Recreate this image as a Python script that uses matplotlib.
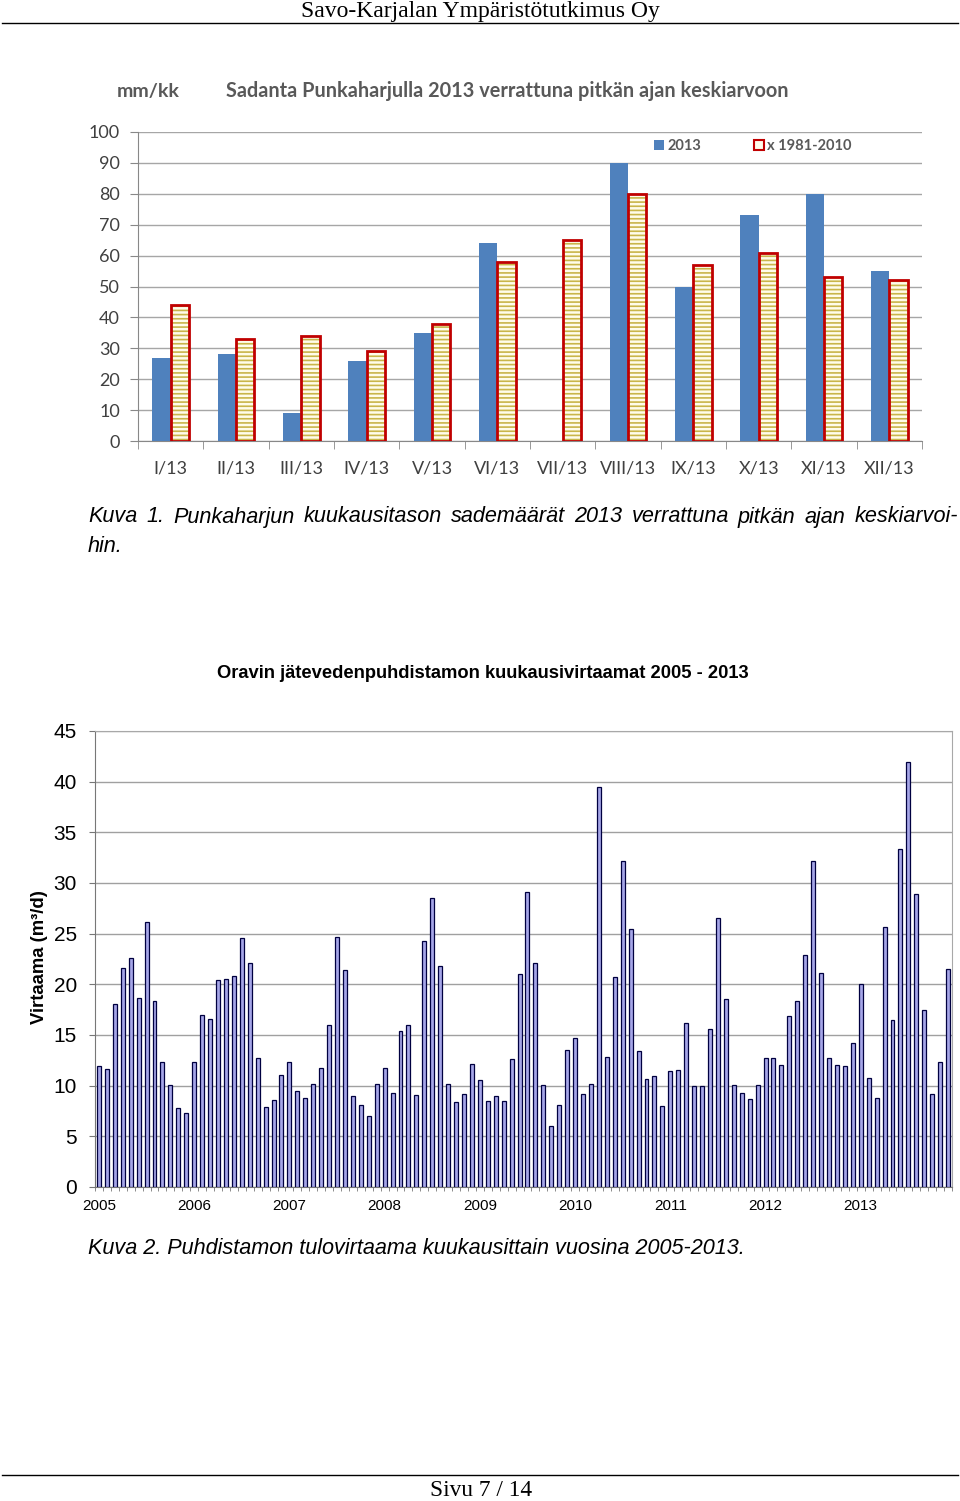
import numpy as np
import matplotlib.pyplot as plt
from matplotlib.lines import Line2D
from matplotlib.patches import Patch

W, H = 960, 1501

# Kuva 1: sadanta Punkaharjulla (mm/kk)
kuukaudet = ['I/13', 'II/13', 'III/13', 'IV/13', 'V/13', 'VI/13',
             'VII/13', 'VIII/13', 'IX/13', 'X/13', 'XI/13', 'XII/13']
sade_2013 = [27, 28, 9, 26, 35, 64, np.nan, 90, 50, 73, 80, 55]
sade_keskiarvo = [44, 33, 34, 29, 38, 58, 65, 80, 57, 61, 53, 52]

# Kuva 2: kuukausivirtaamat (m3/d)
vuodet = [2005, 2006, 2007, 2008, 2009, 2010, 2011, 2012, 2013]
v2005 = [11.9, 11.6, 18.1, 21.6, 22.6, 18.7, 26.2, 18.4, 12.3, 10.1, 7.8, 7.3]
v2006 = [12.3, 17.0, 16.6, 20.4, 20.5, 20.8, 24.6, 22.1, 12.7, 7.9, 8.6, 11.1]
v2007 = [12.3, 9.5, 8.8, 10.2, 11.7, 16.0, 24.7, 21.4, 9.0, 8.1, 7.0, 10.2]
v2008 = [11.7, 9.3, 15.4, 16.0, 9.1, 24.3, 28.5, 21.8, 10.2, 8.4, 9.2, 12.1]
v2009 = [10.6, 8.5, 9.0, 8.5, 12.6, 21.0, 29.1, 22.1, 10.1, 6.0, 8.1, 13.5]
v2010 = [14.7, 9.2, 10.2, 39.5, 12.8, 20.7, 32.2, 25.5, 13.4, 10.7, 11.0, 8.0]
v2011 = [11.4, 11.5, 16.2, 10.0, 10.0, 15.6, 26.5, 18.6, 10.1, 9.3, 8.7, 10.1]
v2012 = [12.7, 12.7, 12.0, 16.9, 18.4, 22.9, 32.2, 21.1, 12.7, 12.0, 11.9, 14.2]
v2013 = [20.0, 10.8, 8.8, 25.7, 16.5, 33.4, 41.9, 28.9, 17.5, 9.2, 12.3, 21.5]
virtaama = v2005 + v2006 + v2007 + v2008 + v2009 + v2010 + v2011 + v2012 + v2013


def fx(x):
    return x / W


def fy(y):
    return 1 - y / H


fig = plt.figure(figsize=(W / 100, H / 100), dpi=100)
renderer = fig.canvas.get_renderer()


def justified(y, text, x0, x1, **kw):
    # spread words so the line fills x0..x1 (like the justified text in the document)
    words = text.split(' ')
    arts = [fig.text(0, fy(y), wd, ha='left', va='center', **kw) for wd in words]
    widths = [a.get_window_extent(renderer).width for a in arts]
    gap = (x1 - x0 - sum(widths)) / (len(words) - 1)
    pos = x0
    for a, wdt in zip(arts, widths):
        a.set_x(fx(pos))
        pos += wdt + gap


# page header / footer
fig.text(fx(480), fy(12), 'Savo-Karjalan Ympäristötutkimus Oy', ha='center', va='center',
         family='Liberation Serif', size=17)
fig.add_artist(Line2D([fx(2), fx(958)], [fy(23), fy(23)], color='black', lw=1))
fig.add_artist(Line2D([fx(2), fx(958)], [fy(1475), fy(1475)], color='black', lw=1))
fig.text(fx(481), fy(1491), 'Sivu 7 / 14', ha='center', va='center',
         family='Liberation Serif', size=16.8)

# ---- chart 1 ----
grey = '#595959'
ax1 = fig.add_axes([fx(138), fy(441), 784 / W, 309 / H])
x = np.arange(len(kuukaudet))
w = 0.28
ax1.bar(x - w / 2, sade_2013, w, color='#4F81BD', zorder=3)
plt.rcParams['hatch.linewidth'] = 1.2
ax1.bar(x + w / 2, sade_keskiarvo, w, facecolor='#FFFCEB', edgecolor='#C9B54A',
        hatch='----', linewidth=0, zorder=3)
ax1.bar(x + w / 2, sade_keskiarvo, w, facecolor='none', edgecolor='#C00000',
        linewidth=2, zorder=4)
ax1.set_xlim(-0.5, 11.5)
ax1.set_ylim(0, 100)
ax1.set_yticks(range(0, 101, 10))
ax1.set_xticks(x)
ax1.set_xticklabels(kuukaudet)
ax1.set_xticks(np.arange(-0.5, 12, 1), minor=True)
ax1.tick_params(axis='x', which='major', length=0, pad=14)
ax1.tick_params(axis='x', which='minor', length=6, color='#888888')
ax1.tick_params(axis='y', length=6, color='#888888', pad=7)
for lab in ax1.get_xticklabels() + ax1.get_yticklabels():
    lab.set_family('Lato')
    lab.set_size(13)
    lab.set_color('#404040')
ax1.grid(axis='y', color='#A6A6A6', lw=1)
ax1.set_axisbelow(True)
for s in ['top', 'right']:
    ax1.spines[s].set_visible(False)
ax1.spines['left'].set_color('#888888')
ax1.spines['bottom'].set_color('#888888')

fig.text(fx(117), fy(91), 'mm/kk', ha='left', va='center', family='Lato',
         weight='bold', size=14, color=grey)
fig.text(fx(226), fy(91), 'Sadanta Punkaharjulla 2013 verrattuna pitkän ajan keskiarvoon',
         ha='left', va='center', family='Lato', weight='bold', size=14.3, color=grey)

handles = [Patch(facecolor='#4F81BD'),
           Patch(facecolor='#FFFCEB', edgecolor='#C00000', linewidth=1.5)]
ax1.legend(handles, ['2013', 'x 1981-2010'], ncol=2, frameon=False,
           loc='center left', bbox_to_anchor=(fx(654), fy(146)),
           bbox_transform=fig.transFigure, borderaxespad=0, borderpad=0,
           handlelength=0.7, handleheight=0.7, handletextpad=0.2, columnspacing=3.6,
           prop={'family': 'Lato', 'weight': 'bold', 'size': 10.5}, labelcolor=grey)

cap_kw = dict(family='Liberation Sans', style='italic', size=15.6)
justified(517, 'Kuva 1. Punkaharjun kuukausitason sademäärät 2013 verrattuna pitkän ajan keskiarvoi-',
          88, 958, **cap_kw)
fig.text(fx(88), fy(546), 'hin.', ha='left', va='center', **cap_kw)

# ---- chart 2 ----
fig.text(fx(483), fy(673), 'Oravin jätevedenpuhdistamon kuukausivirtaamat 2005 - 2013',
         ha='center', va='center', family='Liberation Sans', weight='bold', size=13.2)

ax2 = fig.add_axes([fx(95), fy(1187), 857 / W, 456 / H])
n = len(virtaama)
ax2.bar(np.arange(n), virtaama, 0.5, color='#A6A6E8', edgecolor='#000040',
        linewidth=0.9, zorder=3)
ax2.set_xlim(-0.5, n - 0.5)
ax2.set_ylim(0, 45)
ax2.set_yticks(range(0, 46, 5))
ax2.set_xticks(np.arange(0, n, 12))
ax2.set_xticklabels([str(v) for v in vuodet], family='Liberation Sans', size=11)
ax2.set_xticks(np.arange(-0.5, n, 1), minor=True)
ax2.tick_params(axis='x', which='major', length=0, pad=9)
ax2.tick_params(axis='x', which='minor', length=3, color='#777777')
ax2.tick_params(axis='y', length=4, color='#777777', pad=9, labelsize=15)
for lab in ax2.get_yticklabels():
    lab.set_family('Liberation Sans')
ax2.grid(axis='y', color='#A0A0A0', lw=1)
ax2.set_axisbelow(True)
ax2.spines['left'].set_color('#777777')
ax2.spines['bottom'].set_color('#777777')
ax2.spines['top'].set_color('#A8A8A8')
ax2.spines['right'].set_color('#A8A8A8')

fig.text(fx(40), fy(957), 'Virtaama (m³/d)', rotation=90, ha='center', va='center',
         family='Liberation Sans', weight='bold', size=13.3)

fig.text(fx(88), fy(1248), 'Kuva 2. Puhdistamon tulovirtaama kuukausittain vuosina 2005-2013.',
         ha='left', va='center', **cap_kw)

fig.savefig('out.png', dpi=100)
